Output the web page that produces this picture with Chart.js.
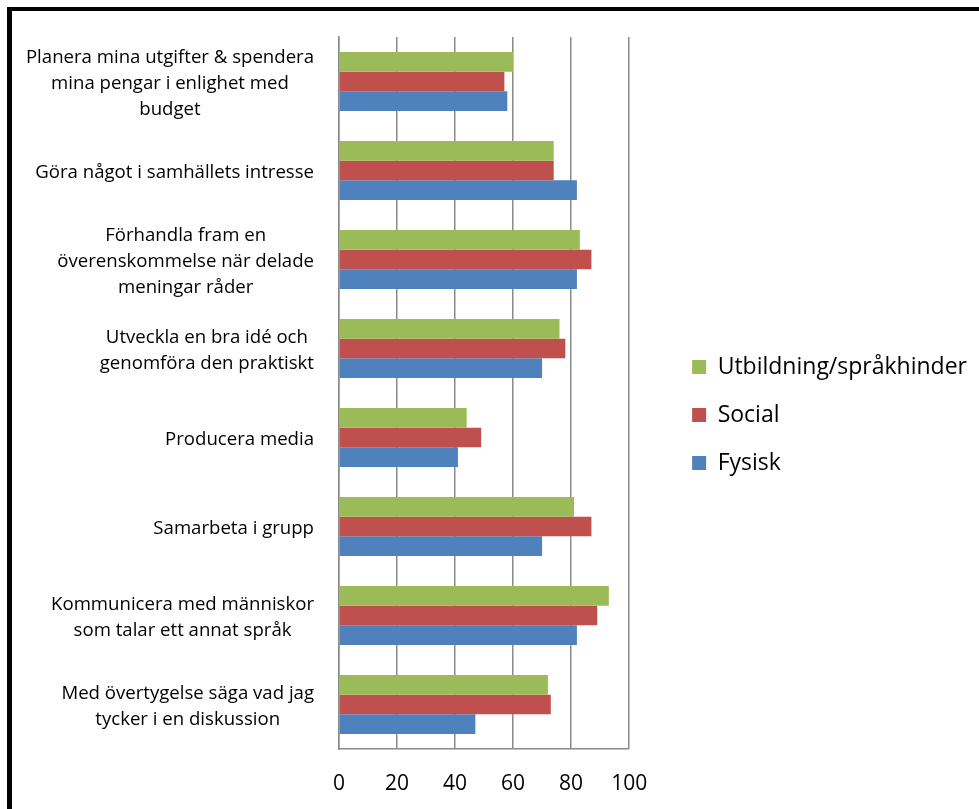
<!DOCTYPE html>
<html>
<head>
<meta charset="utf-8">
<script src="https://cdn.jsdelivr.net/npm/chart.js@4"></script>
<style>
  html, body { margin: 0; padding: 0; background: #fff; overflow: hidden; }
  #wrap { position: relative; width: 979px; height: 809px; }
  #c { position: absolute; left: 0; top: 0; }
  .frameL { position: absolute; left: 7px; top: 7px; width: 5px; height: 802px; background: #000; }
  .frameT { position: absolute; left: 7px; top: 7px; width: 972px; height: 4px; background: #000; }
</style>
</head>
<body>
<div id="wrap">
  <canvas id="c" width="979" height="809"></canvas>
  <div class="frameL"></div>
  <div class="frameT"></div>
</div>
<script>
const categories = [
  ["Planera mina utgifter & spendera", "mina pengar i enlighet med", "budget"],
  ["Göra något i samhällets intresse"],
  ["Förhandla fram en", "överenskommelse när delade", "meningar råder"],
  ["Utveckla en bra idé och", "genomföra den praktiskt"],
  ["Producera media"],
  ["Samarbeta i grupp"],
  ["Kommunicera med människor", "som talar ett annat språk"],
  ["Med övertygelse säga vad jag", "tycker i en diskussion"]
];
const seriesNames = ["Utbildning/språkhinder", "Social", "Fysisk"];
const utbildning = [60, 74, 83, 76, 44, 81, 93, 72];
const social     = [57, 74, 87, 78, 49, 87, 89, 73];
const fysisk     = [58, 82, 82, 70, 41, 70, 82, 47];
const xTicks = [0, 20, 40, 60, 80, 100];

const FONT = '"Open Sans", "Liberation Sans", sans-serif';
const GRID = '#8a8a8a';

const yLabelPlugin = {
  id: 'yLabels',
  afterInit(chart) {
    // let the right-hand legend be as wide as its longest entry
    const lg = chart.legend;
    if (lg) {
      const orig = lg.update.bind(lg);
      lg.update = (maxW, maxH, margins) => orig(Math.max(maxW, 330), maxH, margins);
    }
  },
  afterDraw(chart) {
    const ys = chart.scales.y;
    const ctx = chart.ctx;
    ctx.save();
    ctx.font = '18.6px ' + FONT;
    ctx.fillStyle = '#000';
    ctx.textAlign = 'center';
    ctx.textBaseline = 'middle';
    const lineH = 26;
    const rightEdge = ys.right - 25;
    chart.data.labels.forEach((lines, i) => {
      const yc = ys.getPixelForTick(i) + 2;
      let w = 0;
      lines.forEach(l => { w = Math.max(w, ctx.measureText(l).width); });
      const cx = rightEdge - w / 2;
      const y0 = yc - (lines.length - 1) * lineH / 2;
      lines.forEach((l, k) => ctx.fillText(l, cx, y0 + k * lineH));
    });
    ctx.restore();
  }
};

new Chart(document.getElementById('c'), {
  type: 'bar',
  data: {
    labels: categories,
    datasets: [
      { label: seriesNames[0], data: utbildning, backgroundColor: '#9BBB59' },
      { label: seriesNames[1], data: social, backgroundColor: '#C0504D' },
      { label: seriesNames[2], data: fysisk, backgroundColor: '#4F81BD' }
    ]
  },
  options: {
    indexAxis: 'y',
    responsive: false,
    animation: false,
    events: [],
    datasets: { bar: { categoryPercentage: 0.663, barPercentage: 1.0 } },
    layout: { padding: { top: 37, left: 0, right: 2, bottom: 16 } },
    plugins: {
      legend: {
        position: 'right',
        labels: {
          boxWidth: 14, boxHeight: 14, padding: 25,
          color: '#000',
          font: { family: FONT, size: 23 }
        }
      },
      tooltip: { enabled: false }
    },
    scales: {
      x: {
        position: 'bottom',
        min: 0, max: 100,
        afterBuildTicks: s => { s.ticks = xTicks.map(v => ({ value: v })); },
        afterFit: s => { s.height = 44; },
        grid: { color: GRID, lineWidth: 1.5, drawTicks: false },
        border: { color: GRID, width: 1.5 },
        ticks: { color: '#000', padding: 22, font: { family: FONT, size: 21 } }
      },
      y: {
        position: 'left',
        grid: { display: false },
        border: { color: GRID, width: 1.5 },
        ticks: { display: false },
        afterFit: s => { s.width = 339; }
      },
      pad: {
        type: 'linear',
        position: 'right',
        grid: { display: false },
        border: { display: false },
        ticks: { display: false },
        afterFit: s => { s.width = 38; }
      }
    }
  },
  plugins: [yLabelPlugin]
});
</script>
</body>
</html>
